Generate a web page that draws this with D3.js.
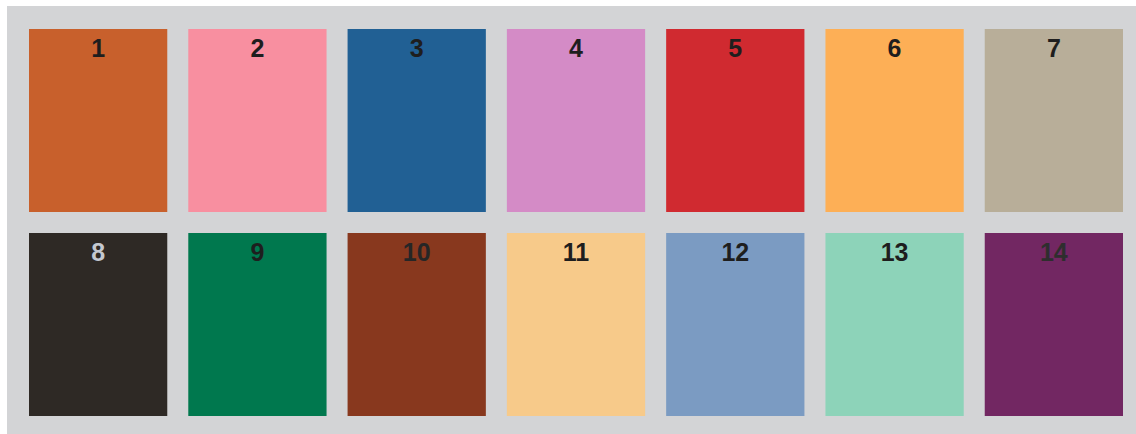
<!DOCTYPE html>
<html>

<head>
  <meta charset="utf-8">
  <style>
    body {
      margin: 0;
      background-color: #ffffff;
      font-family: 'Liberation Sans', Arial, sans-serif;
    }

    .label {
      text-anchor: middle;
      font-weight: bold;
      font-size: 25px;
    }
  </style>
</head>

<body>
  <div id="chart"></div>

  <script src="https://d3js.org/d3.v7.min.js"></script>
  <script>
    var labels = ['1', '2', '3', '4', '5', '6', '7', '8', '9', '10', '11', '12', '13', '14'];
    var swatchColors = ['#c8602c', '#f88fa0', '#216094', '#d48bc6', '#d02a30', '#fdaf56', '#b8ae99',
      '#2e2925', '#00784e', '#88381e', '#f7ca8a', '#7b9bc2', '#8dd3b9', '#722762'];
    var labelColors = ['#1e1e1e', '#1e1e1e', '#1e1e1e', '#1e1e1e', '#1e1e1e', '#1e1e1e', '#1e1e1e',
      '#c4c8d0', '#1e1e1e', '#262626', '#1e1e1e', '#1e1e1e', '#1e1e1e', '#2e2e2e'];

    var width = 1136,
      height = 434,
      cols = 7;

    var svg = d3.select('#chart').append('svg')
      .attr('width', width)
      .attr('height', height);

    // grey panel behind the swatches
    svg.append('rect')
      .attr('x', 7)
      .attr('y', 6)
      .attr('width', width - 7)
      .attr('height', height - 6)
      .style('fill', '#d3d4d6');

    var x = d3.scaleBand()
      .domain(d3.range(cols))
      .range([29, 1123])
      .paddingInner(0.132)
      .paddingOuter(0);

    var y = d3.scaleBand()
      .domain([0, 1])
      .range([29, 416])
      .paddingInner(0.103)
      .paddingOuter(0);

    var cell = svg.selectAll('g.cell')
      .data(labels)
      .enter().append('g')
      .attr('class', 'cell')
      .attr('transform', function(d, i) {
        return 'translate(' + x(i % cols) + ',' + y(Math.floor(i / cols)) + ')';
      });

    cell.append('rect')
      .attr('width', x.bandwidth())
      .attr('height', y.bandwidth())
      .style('fill', function(d, i) {
        return swatchColors[i];
      });

    cell.append('text')
      .attr('class', 'label')
      .attr('x', x.bandwidth() / 2)
      .attr('y', 27.5)
      .style('fill', function(d, i) {
        return labelColors[i];
      })
      .text(function(d) {
        return d;
      });
  </script>

</body>

</html>
